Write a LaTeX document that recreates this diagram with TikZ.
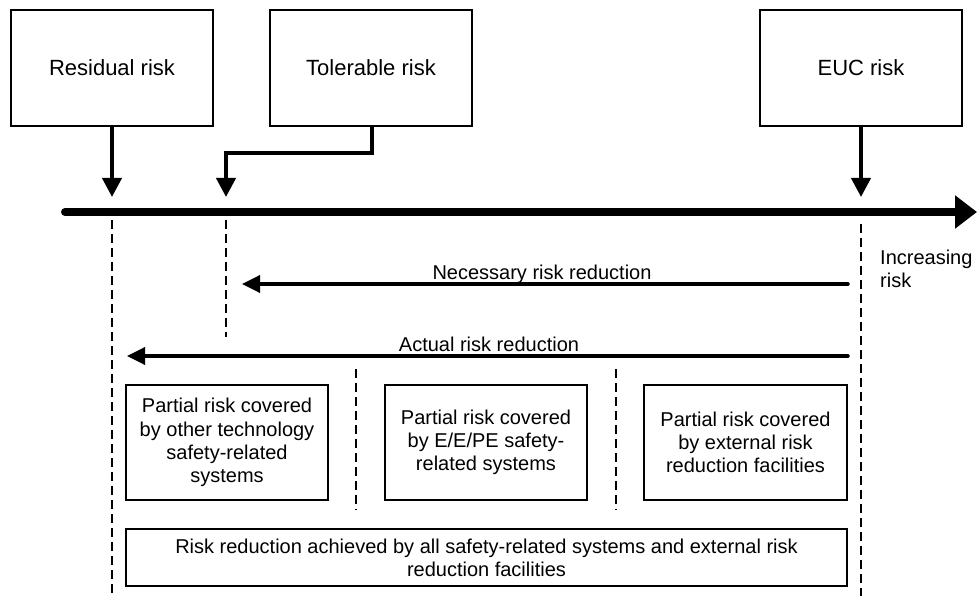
\documentclass[tikz,border=0pt]{standalone}
\usepackage{fontspec}
\setmainfont{Liberation Sans}
\usetikzlibrary{arrows.meta}
\begin{document}
\begin{tikzpicture}[x=1pt,y=-1pt,
  box/.style={draw, line width=1.6pt, minimum width=202pt, minimum height=116pt, inner sep=0pt, font=\fontsize{22}{25}\selectfont},
  sbox/.style={draw, line width=1.6pt, minimum width=202pt, minimum height=115pt, align=center, inner sep=0pt, font=\fontsize{20}{23.3}\selectfont},
  dline/.style={line width=2pt, dash pattern=on 9pt off 5pt},
  darrow/.style={line width=4pt, -{Triangle[length=19pt,width=19pt]}},
  rarrow/.style={line width=3.5pt, line cap=round, -{Triangle[length=18pt,width=17pt]}},
  axisarrow/.style={line width=8pt, line cap=round, -{Triangle[length=22pt,width=32pt]}},
  lbl/.style={font=\fontsize{20}{23}\selectfont, inner sep=0pt},
]
\useasboundingbox (0,0) rectangle (978,596);

% top boxes
\node[box] (res) at (112,68) {Residual risk};
\node[box] (tol) at (371,68) {Tolerable risk};
\node[box] (euc) at (861,68) {EUC risk};

% axis
\coordinate (axL) at (65,212);
\coordinate (axR) at (977,212);
\draw[axisarrow] (axL) -- (axR);

% tips of downward arrows
\coordinate (rtip) at (112,197);
\coordinate (ttip) at (226,197);
\coordinate (etip) at (861,197);
\coordinate (tbend) at (372,153);
\coordinate (tstart) at (372,126);

\draw[darrow] (res.south) -- (rtip);
\draw[darrow, line join=miter] (tstart) -- (tbend) -| (ttip);
\draw[darrow] (euc.south) -- (etip);

% dashed vertical lines
\coordinate (d1t) at (112,220); \coordinate (d1b) at (112,596);
\coordinate (d2t) at (226,220); \coordinate (d2b) at (226,337);
\coordinate (d3t) at (861,224); \coordinate (d3b) at (861,596);
\coordinate (d4t) at (356,369); \coordinate (d4b) at (356,510);
\coordinate (d5t) at (616,369); \coordinate (d5b) at (616,510);
\draw[dline] (d1t) -- (d1b);
\draw[dline] (d2t) -- (d2b);
\draw[dline] (d3t) -- (d3b);
\draw[dline] (d4t) -- (d4b);
\draw[dline] (d5t) -- (d5b);

% risk reduction arrows
\coordinate (nR) at (848,284); \coordinate (nL) at (242,284);
\coordinate (aR) at (848,356); \coordinate (aL) at (127,356);
\draw[rarrow] (nR) -- (nL);
\draw[rarrow] (aR) -- (aL);
\node[lbl, anchor=base] (nlab) at (542,279.5) {Necessary risk reduction};
\node[lbl, anchor=base] (alab) at (489,351.5) {Actual risk reduction};
\node[lbl, anchor=north west, align=left] (inc) at (880,250) {Increasing\\risk};

% lower boxes
\node[sbox] (b1) at (227,442.5) {Partial risk covered\\by other technology\\safety-related\\systems};
\node[sbox] (b2) at (486,442.5) {Partial risk covered\\by E/E/PE safety-\\related systems};
\node[sbox, minimum width=203pt] (b3) at (745.5,442.5) {Partial risk covered\\by external risk\\reduction facilities};
\node[sbox, minimum width=721pt, minimum height=57pt] (b4) at (486.5,557.5) {Risk reduction achieved by all safety-related systems and external risk\\reduction facilities};
\end{tikzpicture}
\end{document}
